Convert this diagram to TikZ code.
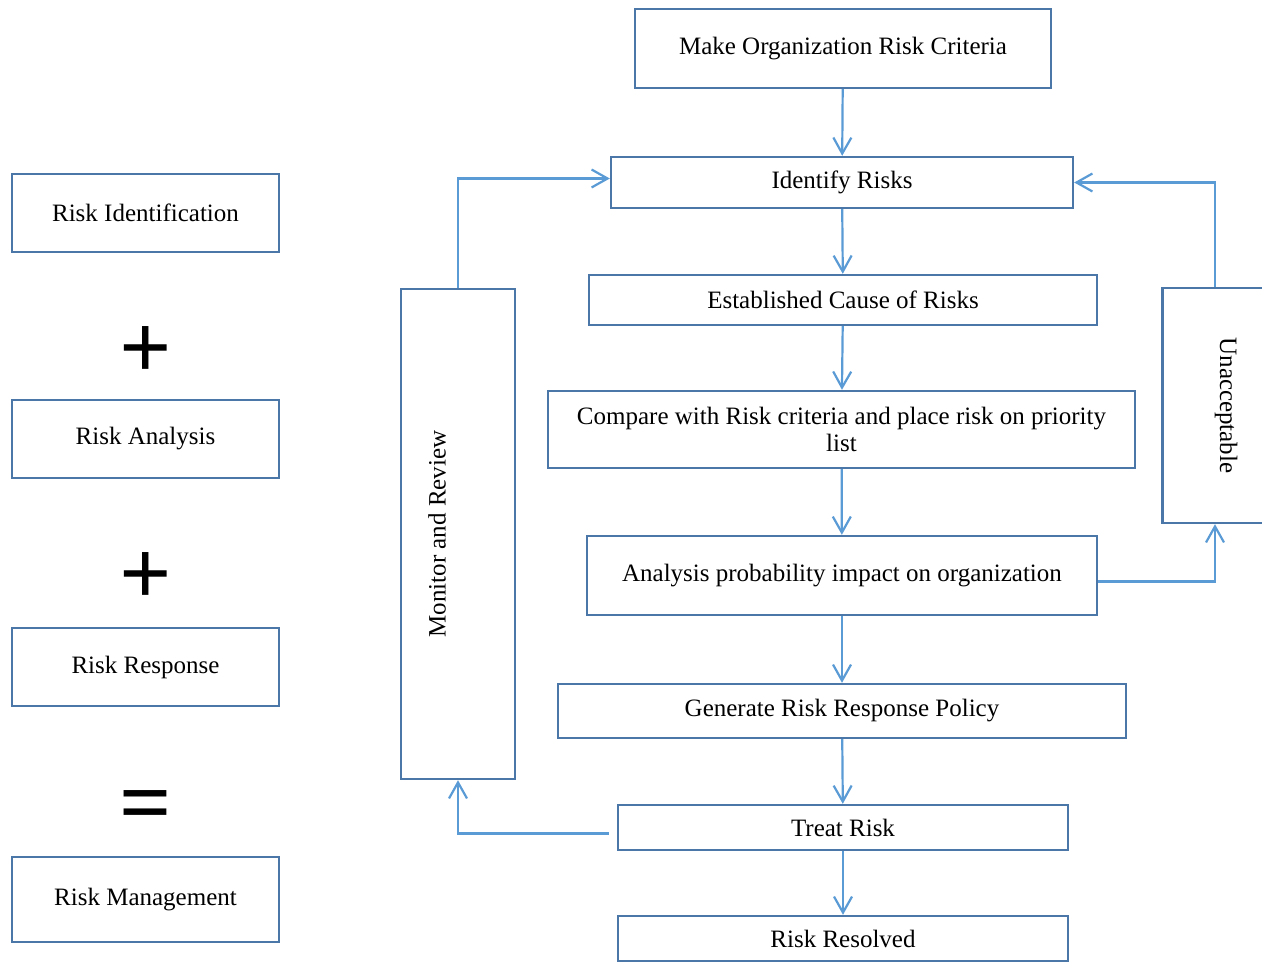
\documentclass[tikz,border=0pt]{standalone}
\usepackage{fontspec}
\setmainfont{Liberation Serif}
\usetikzlibrary{arrows.meta,positioning}
\definecolor{boxblue}{HTML}{4A76A8}
\definecolor{flowblue}{HTML}{5B9BD5}

\begin{document}
\begin{tikzpicture}[x=0.5pt,y=-0.5pt,>={Straight Barb[length=8pt,width=9pt]}]
    \tikzstyle{stage}=[rectangle,draw=boxblue,line width=1.2pt,fill=white,inner sep=2pt,align=center,font=\fontsize{12.5}{13.5}\selectfont]
    \tikzstyle{vlabel}=[inner sep=0pt,font=\fontsize{12.5}{13.5}\selectfont]
    \tikzstyle{flow}=[draw=flowblue,line width=1.1pt,->]
    \tikzstyle{sign}=[inner sep=0pt,font=\fontsize{46}{46}\selectfont\bfseries]
    \useasboundingbox (0,0) rectangle (1262,963);
    \clip (0,0) rectangle (1262,963);
    % left column
    \node[stage,minimum width=133.5pt,minimum height=39pt] (rid) at (145.5,213) {Risk Identification};
    \node[sign] (plusa) at (146,353) {+};
    \node[stage,minimum width=133.5pt,minimum height=39pt] (ran) at (145.5,439) {Risk Analysis};
    \node[sign] (plusb) at (146,579) {+};
    \node[stage,minimum width=133.5pt,minimum height=39pt] (rre) at (145.5,667) {Risk Response};
    \node[sign] (eq) at (146,812) {=};
    \node[stage,minimum width=133.5pt,minimum height=42.5pt] (rma) at (145.5,899.5) {Risk Management};
    % main flow
    \node[stage,minimum width=208pt,minimum height=39.5pt] (make) at (843,48.5) {Make Organization Risk Criteria};
    \node[stage,minimum width=231pt,minimum height=25.5pt] (ident) at (842,182.5) {Identify Risks};
    \node[stage,minimum width=254pt,minimum height=25pt] (cause) at (843,300) {Established Cause of Risks};
    \node[stage,minimum width=293.5pt,minimum height=38.5pt] (comp) at (841.5,429.5) {Compare with Risk criteria and place risk on priority\\list};
    \node[stage,minimum width=255pt,minimum height=39.5pt] (ana) at (842,575.5) {Analysis probability impact on organization};
    \node[stage,minimum width=284pt,minimum height=27pt] (gen) at (842,711) {Generate Risk Response Policy};
    \node[stage,minimum width=225pt,minimum height=22.5pt] (treat) at (843,827.5) {Treat Risk};
    \node[stage,minimum width=225pt,minimum height=22.5pt] (res) at (843,938.5) {Risk Resolved};
    % side boxes
    \node[stage,minimum width=57pt,minimum height=245pt] (mon) at (458,534) {};
    \node[vlabel,rotate=90] (monlbl) at (437,534) {Monitor and Review};
    \node[stage,minimum width=52.5pt,minimum height=117.5pt] (unacc) at (1215,405.5) {};
    \node[vlabel,rotate=-90] (unacclbl) at (1226,405.5) {Unacceptable};
    % connectors
    \draw[flow] (make) -- (ident);
    \draw[flow] (ident) -- (cause);
    \draw[flow] (cause) -- (comp);
    \draw[flow] (comp) -- (ana);
    \draw[flow] (ana) -- (gen);
    \draw[flow] (gen) -- (treat);
    \draw[flow] (treat) -- (res);
    \draw[flow] ([yshift=-3pt]ana.east) -| (unacc.south);
    \draw[flow] (unacc.north) |- (ident.east);
    \draw[flow] ([yshift=-3pt,xshift=-4pt]treat.west) -| (mon.south);
    \draw[flow] (mon.north) |- ([yshift=2pt]ident.west);
\end{tikzpicture}
\end{document}
